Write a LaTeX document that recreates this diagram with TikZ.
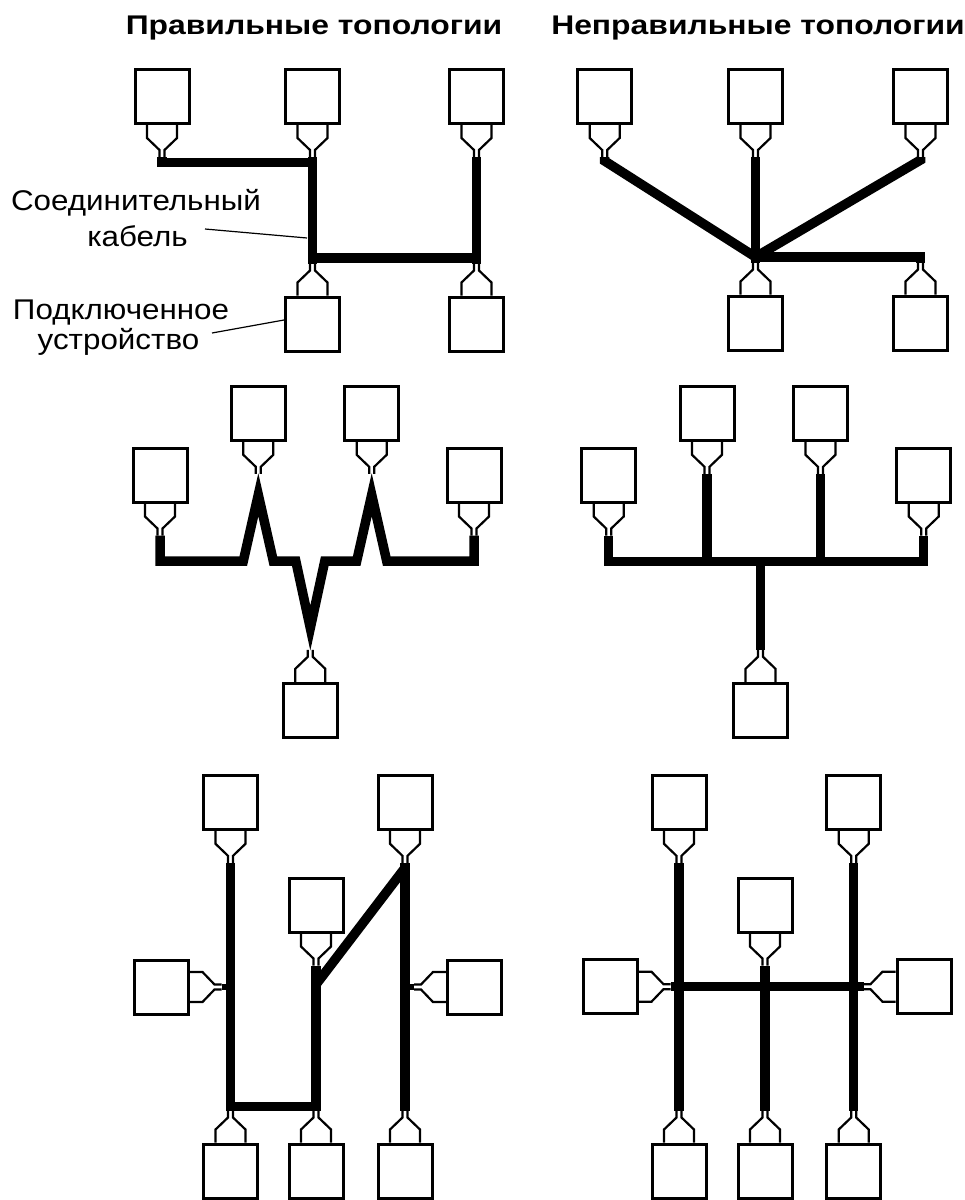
\documentclass[tikz,border=0pt]{standalone}
\usepackage{fontspec}
\setmainfont{Liberation Sans}
\usetikzlibrary{calc}
\tikzset{
  devbox/.style={draw, line width=3pt, minimum width=54pt, minimum height=54pt, inner sep=0pt, fill=white},
  conn/.style={line width=2.2pt, line join=miter},
  cable/.style={line width=9.5pt, line join=miter},
  leader/.style={line width=1.2pt},
  lab/.style={anchor=base, font=\fontsize{28.5}{34}\selectfont, inner sep=0pt},
  ttl/.style={anchor=base, font=\fontsize{27}{32}\selectfont\bfseries, inner sep=0pt},
  dS/.style={x={(0pt,-1pt)},y={(1pt,0pt)}},
  dN/.style={x={(0pt,1pt)},y={(1pt,0pt)}},
  dE/.style={x={(1pt,0pt)},y={(0pt,1pt)}},
  dW/.style={x={(-1pt,0pt)},y={(0pt,1pt)}}
}
\newcommand\dev[4]{%
  \node[devbox] (#1) at #2 {};
  \begin{scope}[shift={(#1.#3)}, #4]
    \draw[conn] (0,-15) -- (13,-15) -- (25,-2.5) -- (32,-2.5);
    \draw[conn] (0,15) -- (13,15) -- (25,2.5) -- (32,2.5);
    \coordinate (#1t) at (32,0);
  \end{scope}}
\newcommand\wtxt[1]{\scalebox{1.10}[1]{#1}}
\newcommand\wttl[1]{\scalebox{1.18}[1]{#1}}
\begin{document}
\begin{tikzpicture}[x=1pt,y=-1pt]
\useasboundingbox (0,0) rectangle (965,1200);

% titles
\node[ttl] (t1) at (314,34.5) {\wttl{Правильные топологии}};
\node[ttl] (t2) at (758,34.5) {\wttl{Неправильные топологии}};

% ---------- top left (correct) ----------
\dev{A1}{(162,96.5)}{south}{dS}
\dev{A2}{(312.5,96.5)}{south}{dS}
\dev{A3}{(476.5,96.5)}{south}{dS}
\dev{A4}{(312.5,324)}{north}{dN}
\dev{A5}{(476.5,324)}{north}{dN}
\draw[cable] (A1t) -- ++(0,5.5) -| (A2t);
\draw[cable] (A2t) -- (A4t);
\draw[cable] (A3t) -- (A5t);
\draw[cable] ($(A4t)+(0,-5.5)$) -- ($(A5t)+(0,-5.5)$);

\node[lab] (lab1a) at (136,210.7) {\wtxt{Соединительный}};
\node[lab] (lab1b) at (137.5,246.7) {\wtxt{кабель}};
\node[lab] (lab2a) at (121,319.3) {\wtxt{Подключенное}};
\node[lab] (lab2b) at (118.5,349.3) {\wtxt{устройство}};
\coordinate (l1s) at (205,229);
\coordinate (l1e) at (307,238);
\coordinate (l2s) at (212,333);
\draw[leader] (l1s) -- (l1e);
\draw[leader] (l2s) -- ($(A4.west)+(0,-4)$);

% ---------- top right (wrong) ----------
\dev{B1}{(604.7,96.5)}{south}{dS}
\dev{B2}{(755.5,96.5)}{south}{dS}
\dev{B3}{(920.5,96.5)}{south}{dS}
\dev{B4}{(755.5,323)}{north}{dN}
\dev{B5}{(920.5,323)}{north}{dN}
\coordinate (H) at ($(B4t)+(0,-5.5)$);
\draw[cable] (B2t) -- (B4t);
\draw[cable] (B1t) -- ++(0,4) -- (H);
\draw[cable] (B3t) -- ++(0,3) -- (H);
\draw[cable] (H) -| (B5t);

% ---------- middle left (correct) ----------
\dev{C1}{(160,475)}{south}{dS}
\dev{C2}{(258.3,413.3)}{south}{dS}
\dev{C3}{(371.7,413.3)}{south}{dS}
\dev{C4}{(474,475)}{south}{dS}
\dev{C5}{(310.3,710.3)}{north}{dN}
\draw[cable] (C1t) -- (160,561) -- (243.3,561) -- ($(C2t)+(0,21)$) -- (273.3,561)
  -- (295.8,561) -- ($(C5t)+(0,-21.8)$) -- (324.8,561) -- (356.7,561)
  -- ($(C3t)+(0,21)$) -- (386.7,561) -- (474,561) -- (C4t);

% ---------- middle right (wrong) ----------
\dev{D1}{(608.7,475)}{south}{dS}
\dev{D2}{(707,413.3)}{south}{dS}
\dev{D3}{(820.5,413.3)}{south}{dS}
\dev{D4}{(923.7,475)}{south}{dS}
\dev{D5}{(760.5,710.3)}{north}{dN}
\draw[cable] (D1t) -- (608.7,561.7) -- (923.7,561.7) -- (D4t);
\draw[cable] (D2t) -- (707,561.7);
\draw[cable] (D3t) -- (820.5,561.7);
\draw[cable] (D5t) -- (760.5,561.7);

% ---------- bottom left (correct) ----------
\dev{E1}{(230.5,802.3)}{south}{dS}
\dev{E2}{(405,802.3)}{south}{dS}
\dev{E3}{(316,905)}{south}{dS}
\dev{E4}{(161,987)}{east}{dE}
\dev{E5}{(474.5,987)}{west}{dW}
\dev{E6}{(230.5,1171)}{north}{dN}
\dev{E7}{(316,1171)}{north}{dN}
\dev{E8}{(405,1171)}{north}{dN}
\draw[cable] (E1t) -- (E6t);
\draw[cable] (E3t) -- (E7t);
\draw[cable] (E2t) -- (E8t);
\draw[cable] ($(E6t)+(0,-4)$) -- ($(E7t)+(0,-4)$);
\draw[cable] ($(E3t)+(0,19)$) -- ($(E2t)+(0,5)$);
\draw[line width=6pt] (E4t) -- (E1t |- E4t);
\draw[line width=6pt] (E5t) -- (E2t |- E5t);

% ---------- bottom right (wrong) ----------
\dev{F1}{(679,802.3)}{south}{dS}
\dev{F2}{(853.7,802.3)}{south}{dS}
\dev{F3}{(765,905)}{south}{dS}
\dev{F4}{(610,986.7)}{east}{dE}
\dev{F5}{(924,986.7)}{west}{dW}
\dev{F6}{(679,1171)}{north}{dN}
\dev{F7}{(765,1171)}{north}{dN}
\dev{F8}{(853.7,1171)}{north}{dN}
\draw[cable] (F1t) -- (F6t);
\draw[cable] (F3t) -- (F7t);
\draw[cable] (F2t) -- (F8t);
\draw[cable] (F4t) -- (F5t);
\end{tikzpicture}
\end{document}
